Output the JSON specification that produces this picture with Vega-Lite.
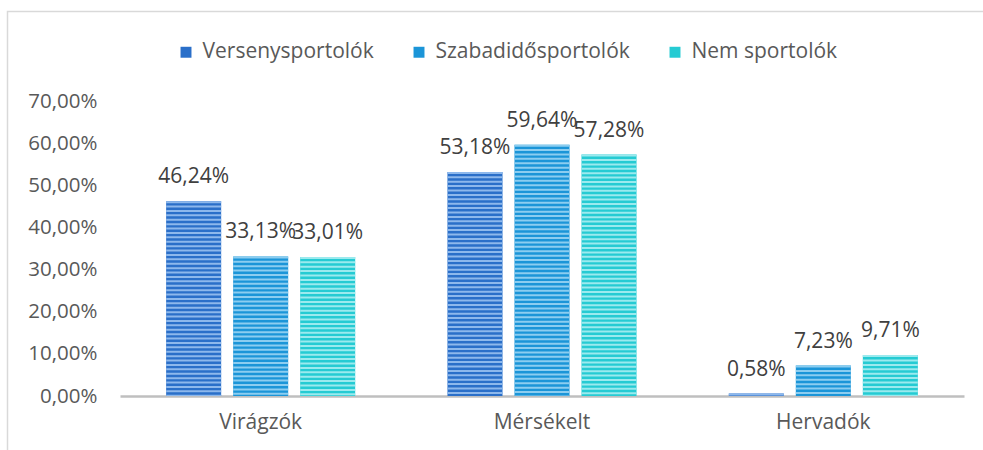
{
  "$schema": "https://vega.github.io/schema/vega-lite/v6.json",
  "width": 985,
  "height": 445,
  "autosize": {"type": "none"},
  "padding": {"left": 7.5, "top": 11.5, "right": 0, "bottom": 0},
  "config": {
    "locale": {"number": {"decimal": ",", "thousands": " ", "grouping": [3], "currency": ["", " Ft"]}},
    "font": "Open Sans",
    "view": {"stroke": "#D9D9D9", "strokeWidth": 1.5}
  },
  "data": {
    "values": [
      {"group": "Virágzók", "series": "Versenysportolók", "value": 0.4624},
      {"group": "Virágzók", "series": "Szabadidősportolók", "value": 0.3313},
      {"group": "Virágzók", "series": "Nem sportolók", "value": 0.3301},
      {"group": "Mérsékelt", "series": "Versenysportolók", "value": 0.5318},
      {"group": "Mérsékelt", "series": "Szabadidősportolók", "value": 0.5964},
      {"group": "Mérsékelt", "series": "Nem sportolók", "value": 0.5728},
      {"group": "Hervadók", "series": "Versenysportolók", "value": 0.0058},
      {"group": "Hervadók", "series": "Szabadidősportolók", "value": 0.0723},
      {"group": "Hervadók", "series": "Nem sportolók", "value": 0.0971}
    ]
  },
  "encoding": {
    "x": {
      "field": "group", "type": "nominal",
      "sort": ["Virágzók", "Mérsékelt", "Hervadók"],
      "scale": {"range": [112.5, 956.5], "paddingInner": 0.328, "paddingOuter": 0.164},
      "axis": {"title": null, "labelAngle": 0, "ticks": false, "offset": -60.5, "domainColor": "#BFBFBF", "domainWidth": 2.5, "labelFontSize": 21, "labelColor": "#595959", "labelPadding": 15}
    },
    "xOffset": {
      "field": "series", "type": "nominal",
      "sort": ["Versenysportolók", "Szabadidősportolók", "Nem sportolók"],
      "scale": {"paddingInner": 0.179, "paddingOuter": 0}
    },
    "y": {
      "field": "value", "type": "quantitative",
      "scale": {"domain": [0, 0.7], "range": [384.5, 89.5]},
      "axis": {"title": null, "format": ".2%", "offset": -112.5, "values": [0, 0.1, 0.2, 0.3, 0.4, 0.5, 0.6, 0.7], "grid": false, "domain": false, "ticks": false, "labelFontSize": 20.5, "labelColor": "#595959", "labelPadding": 23}
    }
  },
  "layer": [
    {
      "mark": {"type": "bar"},
      "encoding": {
        "color": {
          "field": "series", "type": "nominal",
          "sort": ["Versenysportolók", "Szabadidősportolók", "Nem sportolók"],
          "scale": {"domain": ["Versenysportolók", "Szabadidősportolók", "Nem sportolók"], "range": ["#2A6FC9", "#1B95D8", "#25CBD3"]},
          "legend": {
            "title": null, "orient": "none", "direction": "horizontal",
            "legendX": 168, "legendY": 30,
            "symbolType": "square", "symbolSize": 120, "symbolStrokeWidth": 0,
            "labelFontSize": 21, "labelColor": "#595959", "labelOffset": 6, "labelLimit": 400, "columnPadding": 34
          }
        }
      }
    },
    {
      "mark": {"type": "rule", "strokeWidth": 55, "strokeDash": [2, 2.4]},
      "encoding": {
        "y2": {"datum": 0},
        "stroke": {
          "field": "series", "type": "nominal",
          "scale": {"domain": ["Versenysportolók", "Szabadidősportolók", "Nem sportolók"], "range": ["#8DB8EC", "#8CCDF0", "#9BEAEE"]},
          "legend": null
        }
      }
    },
    {
      "mark": {"type": "text", "dy": -24, "fontSize": 21, "color": "#404040"},
      "encoding": {"text": {"field": "value", "type": "quantitative", "format": ".2%"}}
    }
  ]
}
